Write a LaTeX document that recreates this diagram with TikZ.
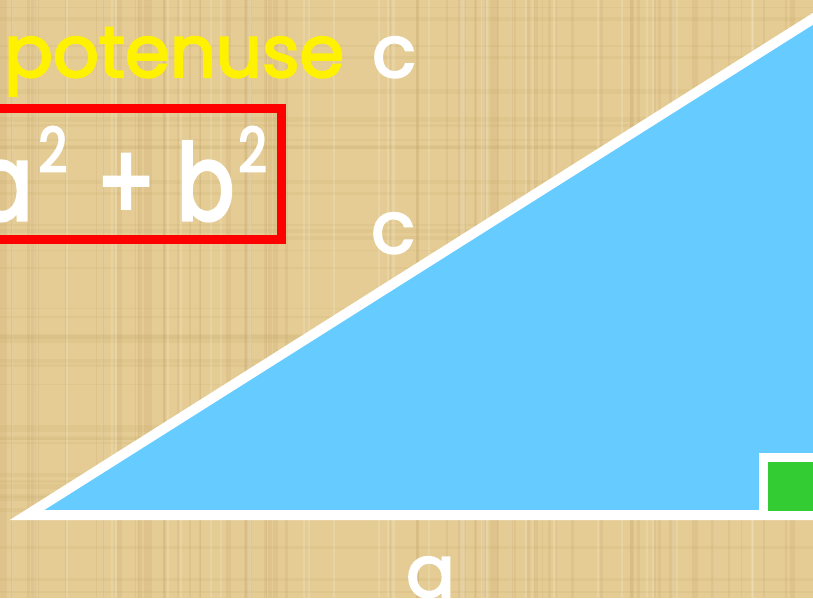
\documentclass[tikz,border=0pt]{standalone}
\usepackage{fontspec}
\setmainfont{Poppins}
\newfontfamily\comic{Poppins}[FakeBold=3]
\newfontfamily\comicnarrow{Poppins}[FakeBold=3, FakeStretch=0.8]
\usetikzlibrary{positioning}

\definecolor{papyrus}{RGB}{229,204,148}
\definecolor{fibre}{RGB}{190,160,100}
\definecolor{sky}{RGB}{102,204,255}
\definecolor{leaf}{RGB}{51,204,51}

\begin{document}
\begin{tikzpicture}[x=1pt, y=-1pt,
    side/.style={draw=white, line width=10pt, line join=miter},
    word/.style={inner sep=0pt, text=white, font=\comic\fontsize{72}{76}\selectfont},
    sum/.style={inner sep=0pt, text=white, font=\comicnarrow\fontsize{106}{110}\selectfont}
]
\useasboundingbox (0,0) rectangle (813,598);
\begin{scope}
\clip (0,0) rectangle (813,598);

% papyrus background
\fill[papyrus] (0,0) rectangle (813,598);
\pgfmathsetseed{11}
\foreach \i in {1,...,70} {
  \pgfmathsetmacro{\xx}{813*rnd}
  \pgfmathsetmacro{\ww}{1+4*rnd}
  \draw[fibre, opacity=0.16, line width=\ww pt] (\xx,0) -- (\xx,598);
}
\foreach \i in {1,...,40} {
  \pgfmathsetmacro{\yy}{598*rnd}
  \pgfmathsetmacro{\ww}{1+4*rnd}
  \draw[fibre, opacity=0.13, line width=\ww pt] (0,\yy) -- (813,\yy);
}
\foreach \i in {1,...,40} {
  \pgfmathsetmacro{\xx}{813*rnd}
  \draw[white, opacity=0.15, line width=2pt] (\xx,0) -- (\xx,598);
}

% the triangle
\coordinate (A) at (27,515);
\coordinate (B) at (819,515);
\coordinate (C) at (819,15);
\filldraw[side, fill=sky] (A) -- (B) -- (C) -- cycle;

% right angle mark
\filldraw[side, fill=leaf, line width=9pt] (763.5,457.5) rectangle (B);

% box round the sum
\draw[red, line width=9pt] (-40,108) rectangle (281,239);
\end{scope}

\node[word, text=yellow, anchor=base west] (hyp) at (4,77) {potenuse};
\node[word, anchor=base west] (hypc) at (372,77) {c};
\node[sum, anchor=base east] (sumab) at (267,220)
  {a\hspace{6pt}{\fontsize{62}{62}\selectfont\raisebox{48pt}{2}}\hspace{30pt}+\hspace{22pt}b\hspace{4pt}{\fontsize{62}{62}\selectfont\raisebox{48pt}{2}}};
\node[word, anchor=base west] (sidec) at (371,253) {c};
\node[word, anchor=base west] (sidea) at (406,597) {a};
\end{tikzpicture}
\end{document}
